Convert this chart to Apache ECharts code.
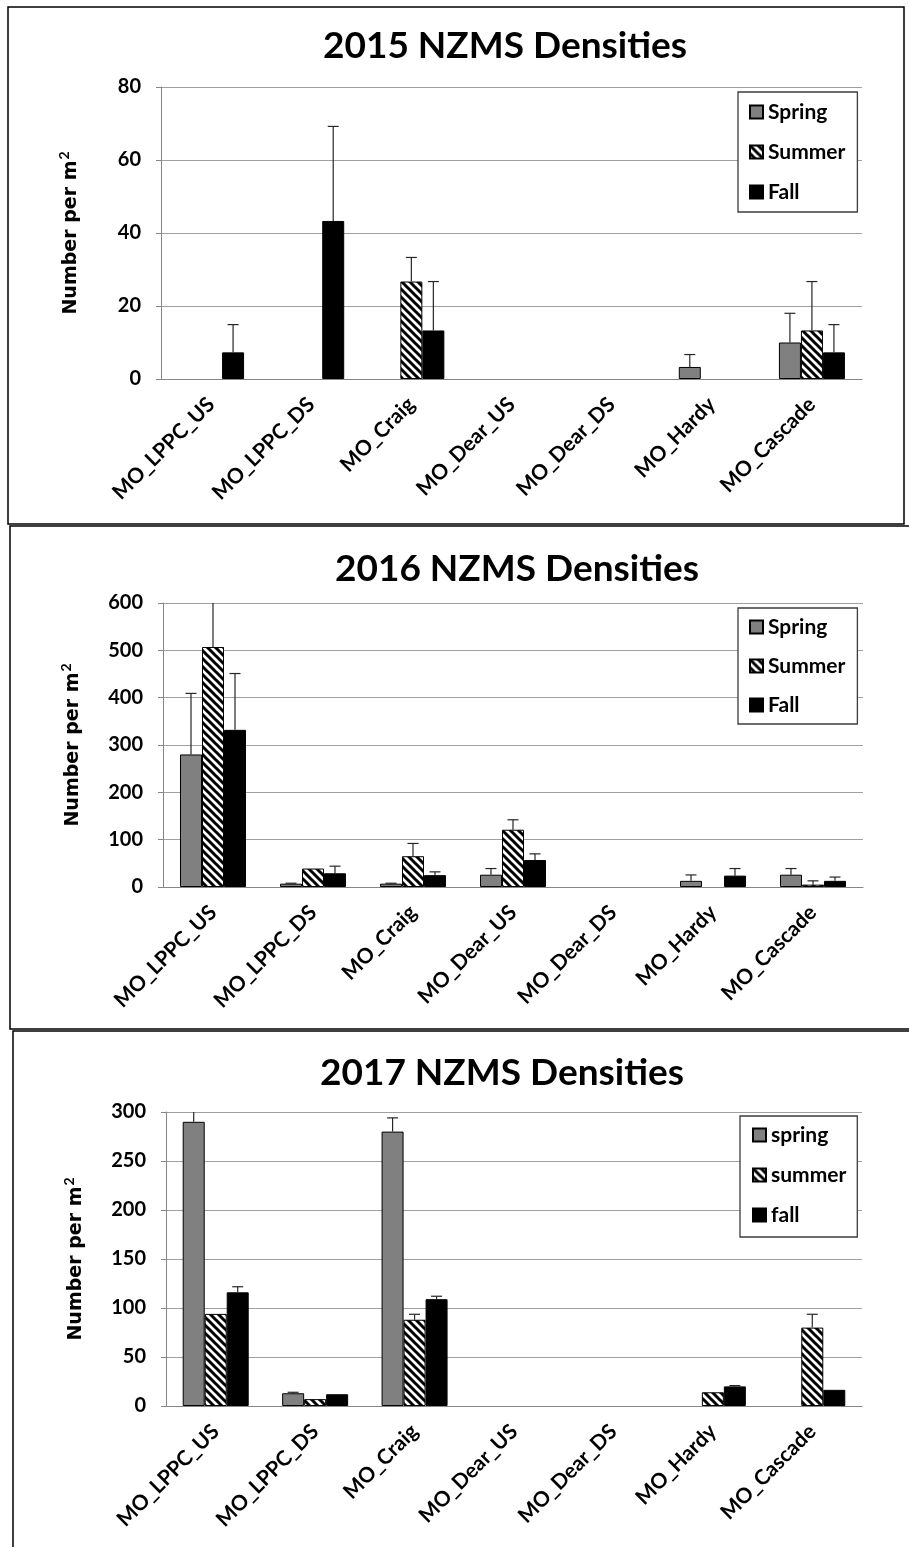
<!DOCTYPE html>
<html>
<head>
<meta charset="utf-8">
<script src="https://cdn.jsdelivr.net/npm/echarts@6/dist/echarts.min.js"></script>
<style>
  html, body { margin: 0; padding: 0; background: #fff; }
  #chart { width: 909px; height: 1547px; }
</style>
</head>
<body>
<div id="chart"></div>
<script>
// Sites sampled each year
const categories = ['MO_LPPC_US', 'MO_LPPC_DS', 'MO_Craig', 'MO_Dear_US', 'MO_Dear_DS', 'MO_Hardy', 'MO_Cascade'];

// 2015 mean densities (number per m²) and upper error amounts
const spring2015 = [null, null, null, null, null, 3.3, 10];
const summer2015 = [null, null, 26.7, null, null, null, 13.3];
const fall2015   = [7.3, 43.3, 13.3, null, null, null, 7.3];
const spring2015Err = [null, null, null, null, null, 3.4, 8];
const summer2015Err = [null, null, 6.6, null, null, null, 13.4];
const fall2015Err   = [7.6, 25.9, 13.4, null, null, null, 7.6];

// 2016
const spring2016 = [280, 7, 7, 26, null, 13, 26];
const summer2016 = [507, 39, 65, 121, null, null, 5];
const fall2016   = [332, 29, 25, 57, null, 24, 13];
const spring2016Err = [129, 1, 1, 13, null, 12.5, 13];
const summer2016Err = [130, null, 27, 21, null, null, 8];
const fall2016Err   = [119, 15, 7, 13, null, 15, 8];

// 2017
const spring2017 = [290, 13, 280, null, null, null, null];
const summer2017 = [94, 7, 88, null, null, 14, 80];
const fall2017   = [116, 12, 109, null, null, 20, 16.5];
const spring2017Err = [14, 1, 14, null, null, null, null];
const summer2017Err = [null, null, 5.6, null, null, null, 13.6];
const fall2017Err   = [5.7, null, 3, null, null, 0.8, null];

// Axis ranges and titles
const yMax = [80, 600, 300];
const yStep = [20, 100, 50];
const titles = ['2015 NZMS Densities', '2016 NZMS Densities', '2017 NZMS Densities'];
const seasonNames = [
  ['Spring', 'Summer', 'Fall'],
  ['Spring', 'Summer', 'Fall'],
  ['spring', 'summer', 'fall']
];

const panels = [
  { values: [spring2015, summer2015, fall2015], errs: [spring2015Err, summer2015Err, fall2015Err] },
  { values: [spring2016, summer2016, fall2016], errs: [spring2016Err, summer2016Err, fall2016Err] },
  { values: [spring2017, summer2017, fall2017], errs: [spring2017Err, summer2017Err, fall2017Err] }
];

// Layout of the three panels
const gridBoxes = [
  { left: 161, top: 87, width: 701, height: 292 },
  { left: 163, top: 603, width: 700, height: 284 },
  { left: 166, top: 1112, width: 696, height: 294 }
];
const legendBoxes = [
  { left: 738, top: 92, itemGap: 18, padding: [9, 12, 9, 11] },
  { left: 738, top: 608, itemGap: 17, padding: [8, 12, 8, 11] },
  { left: 740, top: 1116, itemGap: 18, padding: [8, 11, 11, 12] }
];
const titleY = [28, 551, 1055];
const titleX = [505, 517, 502];

const BAR_W = 22;
const FONT = 'Lato, "Open Sans", sans-serif';
const NAME_FONT = '"DejaVu Sans", sans-serif';

// Diagonal hatch used for the summer bars
function makeHatch() {
  const c = document.createElement('canvas');
  const s = 8;
  c.width = s; c.height = s;
  const g = c.getContext('2d');
  g.fillStyle = '#fff';
  g.fillRect(0, 0, s, s);
  g.strokeStyle = '#000';
  g.lineWidth = 3;
  g.lineCap = 'square';
  for (const o of [-s, 0, s]) {
    g.beginPath();
    g.moveTo(o, 0);
    g.lineTo(o + s, s);
    g.stroke();
  }
  return { image: c, repeat: 'repeat' };
}
const hatch = makeHatch();
const seasonFill = ['#808080', hatch, '#000000'];

const grid = [], xAxis = [], yAxis = [], legend = [], title = [], series = [];

panels.forEach((p, k) => {
  grid.push(Object.assign({ containLabel: false }, gridBoxes[k]));
  xAxis.push({
    type: 'category', gridIndex: k, data: categories,
    axisLine: { lineStyle: { color: '#868686', width: 1 } },
    axisTick: { length: 6, lineStyle: { color: '#868686' } },
    axisLabel: {
      interval: 0, rotate: 45, margin: 22, color: '#000',
      fontFamily: FONT, fontWeight: 'bold', fontSize: 21
    }
  });
  yAxis.push({
    type: 'value', gridIndex: k, min: 0, max: yMax[k], interval: yStep[k],
    name: '{t|Number per m}{sup|2}', nameLocation: 'middle', nameGap: 80,
    nameTextStyle: {
      fontFamily: NAME_FONT, fontWeight: 'bold', fontSize: 19, color: '#000',
      rich: {
        t: { fontFamily: NAME_FONT, fontWeight: 'bold', fontSize: 19, color: '#000', lineHeight: 24, verticalAlign: 'bottom' },
        sup: { fontFamily: FONT, fontWeight: 'bold', fontSize: 14, color: '#000', lineHeight: 24, verticalAlign: 'top', padding: [0, 0, 0, 1] }
      }
    },
    axisLine: { show: true, lineStyle: { color: '#868686', width: 1 } },
    axisTick: { show: true, length: 5, lineStyle: { color: '#868686' } },
    axisLabel: { margin: 20, color: '#000', fontFamily: FONT, fontWeight: 'bold', fontSize: 20 },
    splitLine: { lineStyle: { color: '#a0a0a0', width: 1.2 } }
  });
  legend.push(Object.assign({
    orient: 'vertical', selectedMode: false, icon: 'rect',
    itemWidth: 13, itemHeight: 13,
    borderColor: '#3c3c3c', borderWidth: 1.3, backgroundColor: '#fff',
    textStyle: { fontFamily: FONT, fontWeight: 'bold', fontSize: 21, lineHeight: 22, color: '#000' },
    data: seasonNames[k]
  }, legendBoxes[k]));
  title.push({
    text: titles[k], left: titleX[k], top: titleY[k], textAlign: 'center', padding: 0,
    textStyle: { fontFamily: FONT, fontWeight: 'bold', fontSize: 37, color: '#000' }
  });

  p.values.forEach((vals, s) => {
    series.push({
      type: 'bar', name: seasonNames[k][s], xAxisIndex: k, yAxisIndex: k,
      data: vals, barWidth: BAR_W, barGap: '0%',
      itemStyle: { color: seasonFill[s], borderColor: '#000', borderWidth: 1 },
      emphasis: { disabled: true }, z: 2
    });
  });

  // Upper error bars, centred on each bar of the group
  p.values.forEach((vals, s) => {
    const errs = p.errs[s];
    const data = [];
    vals.forEach((v, i) => {
      if (v != null && errs[i] != null) data.push([i, v, errs[i]]);
    });
    const offset = (s - 1) * BAR_W;
    const top = yMax[k];
    series.push({
      type: 'custom', xAxisIndex: k, yAxisIndex: k, silent: true, z: 3,
      data: data,
      renderItem: function (params, api) {
        const i = api.value(0), v = api.value(1), e = api.value(2);
        const hi = v + e;
        const base = api.coord([i, v]);
        const end = api.coord([i, Math.min(hi, top)]);
        const x = base[0] + offset;
        const style = { stroke: '#262626', lineWidth: 1.2 };
        const kids = [{ type: 'line', shape: { x1: x, y1: base[1], x2: x, y2: end[1] }, style: style }];
        if (hi <= top) {
          kids.push({ type: 'line', shape: { x1: x - 5.5, y1: end[1], x2: x + 5.5, y2: end[1] }, style: style });
        }
        return { type: 'group', children: kids };
      }
    });
  });
});

// Panel frames
const frame = { fill: 'none', stroke: '#000', lineWidth: 1.5 };
const graphic = [
  { type: 'rect', shape: { x: 8, y: 7, width: 896, height: 517 }, style: frame, z: 100 },
  { type: 'rect', shape: { x: 10, y: 526, width: 1000, height: 503 }, style: frame, z: 100 },
  { type: 'rect', shape: { x: 13, y: 1031, width: 1000, height: 1000 }, style: frame, z: 100 }
];

const chart = echarts.init(document.getElementById('chart'), null, { renderer: 'canvas' });
chart.setOption({
  animation: false,
  backgroundColor: '#fff',
  title, grid, xAxis, yAxis, legend, series, graphic
});
</script>
</body>
</html>
